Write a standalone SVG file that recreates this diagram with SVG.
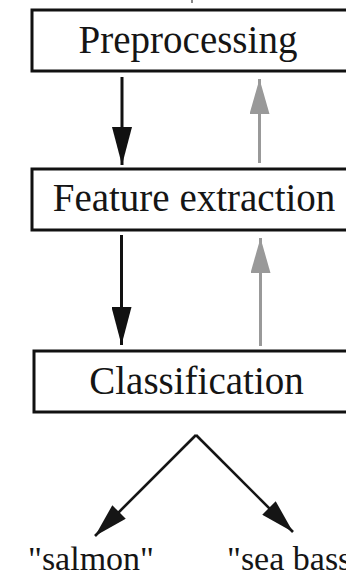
<svg xmlns="http://www.w3.org/2000/svg" width="346" height="575" viewBox="0 0 346 575">
<defs>
<style>
.box{fill:#fff;stroke:#111;stroke-width:3}
.lbl{font-family:"Liberation Serif","Times New Roman",serif;font-size:39px;fill:#151515;text-anchor:middle}
.out{font-family:"Liberation Serif","Times New Roman",serif;font-size:34px;fill:#151515}
.down{stroke:#111;stroke-width:3;fill:none;marker-end:url(#hb)}
.up{stroke:#999;stroke-width:3;fill:none;marker-end:url(#hg)}
.diag{stroke:#151515;stroke-width:2.6;fill:none;marker-end:url(#hd)}
</style>
<marker id="hb" markerUnits="userSpaceOnUse" viewBox="0 0 38 20" markerWidth="38" markerHeight="20" refX="38" refY="10" orient="auto"><path d="M0,0 L38,10 L0,20 z" fill="#111"/></marker>
<marker id="hg" markerUnits="userSpaceOnUse" viewBox="0 0 35 20" markerWidth="35" markerHeight="20" refX="35" refY="10" orient="auto"><path d="M0,0 L35,10 L0,20 z" fill="#999"/></marker>
<marker id="hd" markerUnits="userSpaceOnUse" viewBox="0 0 34 19" markerWidth="34" markerHeight="19" refX="34" refY="9.5" orient="auto"><path d="M0,0 L34,9.5 L0,19 z" fill="#151515"/></marker>
</defs>
<rect width="346" height="575" fill="#fff"/>
<g id="connectors">
<line x1="192" y1="0" x2="192" y2="3" stroke="#888" stroke-width="2"/>
<line class="down" x1="122" y1="77" x2="122" y2="165"/>
<line class="up" x1="259.5" y1="163" x2="259.5" y2="79"/>
<line class="down" x1="121.5" y1="235" x2="121.5" y2="345"/>
<line class="up" x1="260.5" y1="346" x2="260.5" y2="238"/>
<line class="diag" x1="196" y1="435" x2="95" y2="536"/>
<line class="diag" x1="196" y1="435" x2="293" y2="532"/>
</g>
<g id="preprocessing">
<rect class="box" x="32" y="10" width="330" height="61"/>
<text class="lbl" x="188" y="53">Preprocessing</text>
</g>
<g id="feature-extraction">
<rect class="box" x="32" y="169" width="330" height="61"/>
<text class="lbl" x="194" y="211">Feature extraction</text>
</g>
<g id="classification">
<rect class="box" x="34" y="351" width="330" height="61"/>
<text class="lbl" x="196.5" y="394">Classification</text>
</g>
<g id="salmon">
<text class="out" x="28" y="570">"salmon"</text>
</g>
<g id="sea-bass">
<text class="out" x="227" y="570">"sea bass</text>
</g>
</svg>
